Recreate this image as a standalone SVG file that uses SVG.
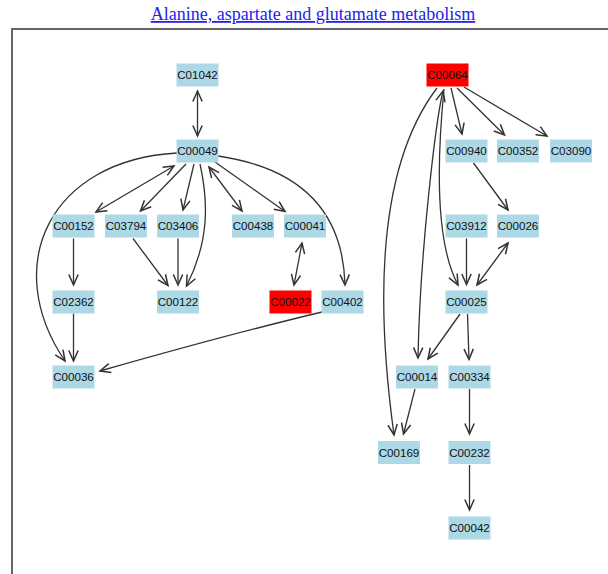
<svg xmlns="http://www.w3.org/2000/svg" width="608" height="574" viewBox="0 0 608 574">
<style>
.title{font-family:"Liberation Serif","Times New Roman",serif;font-size:18px;fill:#2222ee;text-decoration:underline;}
.node rect{fill:#add8e6;}
.node.red rect{fill:#ff0000;}
.node text{font-family:"Liberation Sans",Arial,sans-serif;font-size:11.6px;fill:#111;text-anchor:middle;}
.edges path{fill:none;stroke:#333;stroke-width:1.3;marker-end:url(#arr);}
.edges path.both{marker-start:url(#arr);}
.frame{fill:none;stroke:#666;stroke-width:2;}
</style>
<defs>
<marker id="arr" markerUnits="userSpaceOnUse" markerWidth="14" markerHeight="14" refX="10" refY="5" viewBox="0 0 12 10" orient="auto-start-reverse">
<path d="M1,1 L10,5 L1,9" fill="none" stroke="#333" stroke-width="1.3"/>
</marker>
</defs>
<rect width="608" height="574" fill="#fff"/>
<text class="title" x="313" y="20" text-anchor="middle">Alanine, aspartate and glutamate metabolism</text>
<path class="frame" d="M12,575 L12,29 L609,29"/>

<g id="edges" class="edges">
<path class="both" d="M197.5,91 L197.5,136"/>
<path class="both" d="M174,166 L96,212"/>
<path d="M186,164 L140.5,211"/>
<path d="M194,164 L183,210"/>
<path d="M200,164 C208,200 210,240 186.5,286"/>
<path class="both" d="M209,167 L242,211"/>
<path d="M215,162 L285,211.5"/>
<path d="M218,156 C300,168 343,210 345,285"/>
<path d="M177,153 C50,160 0,265 65,361"/>
<path d="M133,238.5 L168,285.5"/>
<path d="M178,238.5 L178,285"/>
<path d="M73.5,238.5 L73.5,285"/>
<path d="M73.5,313.5 L73.5,361"/>
<path class="both" d="M302,243 L294,285"/>
<path d="M322,312 Q230,334 100,371"/>
<path d="M451,88 L462,134"/>
<path d="M457,88 L504.5,135"/>
<path d="M464,87 L547,136"/>
<path d="M473.5,163 L508,210"/>
<path d="M466.5,238.5 L466.5,284.5"/>
<path class="both" d="M508,243 L477,285"/>
<path d="M444,89 C438,150 434,240 458,285"/>
<path class="both" d="M443,91 C436,120 420,250 418,358"/>
<path d="M437,88 C390,150 370,260 394,435"/>
<path d="M415,389 L403.5,434"/>
<path d="M460,314 L428,359"/>
<path d="M467.5,314 L469,359.5"/>
<path d="M469.5,389 L469.5,434"/>
<path d="M469.5,465 L469.5,510"/>
</g>

<g id="C01042" class="node" transform="translate(197.5,75)"><rect x="-21" y="-11.5" width="42" height="23"/><text y="4">C01042</text></g>
<g id="C00049" class="node" transform="translate(197.5,151)"><rect x="-21" y="-11.5" width="42" height="23"/><text y="4">C00049</text></g>
<g id="C00152" class="node" transform="translate(73.5,226)"><rect x="-21" y="-11.5" width="42" height="23"/><text y="4">C00152</text></g>
<g id="C03794" class="node" transform="translate(126,226)"><rect x="-21" y="-11.5" width="42" height="23"/><text y="4">C03794</text></g>
<g id="C03406" class="node" transform="translate(178,226)"><rect x="-21" y="-11.5" width="42" height="23"/><text y="4">C03406</text></g>
<g id="C00438" class="node" transform="translate(253,226)"><rect x="-21" y="-11.5" width="42" height="23"/><text y="4">C00438</text></g>
<g id="C00041" class="node" transform="translate(305,226)"><rect x="-21" y="-11.5" width="42" height="23"/><text y="4">C00041</text></g>
<g id="C02362" class="node" transform="translate(73.5,302)"><rect x="-21" y="-11.5" width="42" height="23"/><text y="4">C02362</text></g>
<g id="C00122" class="node" transform="translate(178,302)"><rect x="-21" y="-11.5" width="42" height="23"/><text y="4">C00122</text></g>
<g id="C00022" class="node red" transform="translate(290.5,302)"><rect x="-21" y="-11.5" width="42" height="23"/><text y="4">C00022</text></g>
<g id="C00402" class="node" transform="translate(342.5,302)"><rect x="-21" y="-11.5" width="42" height="23"/><text y="4">C00402</text></g>
<g id="C00036" class="node" transform="translate(73.5,377)"><rect x="-21" y="-11.5" width="42" height="23"/><text y="4">C00036</text></g>
<g id="C00064" class="node red" transform="translate(447.5,75)"><rect x="-21" y="-11.5" width="42" height="23"/><text y="4">C00064</text></g>
<g id="C00940" class="node" transform="translate(466.5,151)"><rect x="-21" y="-11.5" width="42" height="23"/><text y="4">C00940</text></g>
<g id="C00352" class="node" transform="translate(518,151)"><rect x="-21" y="-11.5" width="42" height="23"/><text y="4">C00352</text></g>
<g id="C03090" class="node" transform="translate(571,151)"><rect x="-21" y="-11.5" width="42" height="23"/><text y="4">C03090</text></g>
<g id="C03912" class="node" transform="translate(466.5,226)"><rect x="-21" y="-11.5" width="42" height="23"/><text y="4">C03912</text></g>
<g id="C00026" class="node" transform="translate(518,226)"><rect x="-21" y="-11.5" width="42" height="23"/><text y="4">C00026</text></g>
<g id="C00025" class="node" transform="translate(466.5,302)"><rect x="-21" y="-11.5" width="42" height="23"/><text y="4">C00025</text></g>
<g id="C00014" class="node" transform="translate(417,377)"><rect x="-21" y="-11.5" width="42" height="23"/><text y="4">C00014</text></g>
<g id="C00334" class="node" transform="translate(469.5,377)"><rect x="-21" y="-11.5" width="42" height="23"/><text y="4">C00334</text></g>
<g id="C00169" class="node" transform="translate(399,452.5)"><rect x="-21" y="-11.5" width="42" height="23"/><text y="4">C00169</text></g>
<g id="C00232" class="node" transform="translate(469.5,452.5)"><rect x="-21" y="-11.5" width="42" height="23"/><text y="4">C00232</text></g>
<g id="C00042" class="node" transform="translate(469.5,528)"><rect x="-21" y="-11.5" width="42" height="23"/><text y="4">C00042</text></g>
</svg>
